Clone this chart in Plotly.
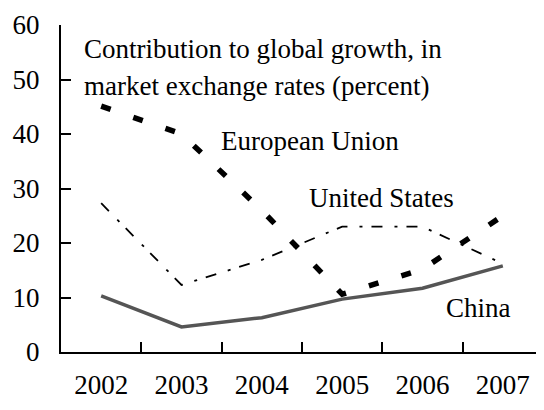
import plotly.graph_objects as go

years = ["2002", "2003", "2004", "2005", "2006", "2007"]
china = [10.3, 4.6, 6.3, 9.7, 11.7, 15.8]
united_states = [27.3, 12.3, 16.9, 23.0, 23.0, 16.2]
european_union = [45.1, 40.0, 26.0, 10.6, 15.2, 25.0]
y_ticks = [0, 10, 20, 30, 40, 50, 60]

FONT = "Liberation Serif"
OFF = 8  # default page body margin

fig = go.Figure()
fig.add_trace(go.Scatter(x=years, y=european_union, mode="lines", name="European Union",
                         line=dict(color="black", width=5.5, dash="10px,24px")))
fig.add_trace(go.Scatter(x=years, y=united_states, mode="lines", name="United States",
                         line=dict(color="black", width=1.8, dash="11px,12px,3px,9px")))
fig.add_trace(go.Scatter(x=years, y=china, mode="lines", name="China",
                         line=dict(color="#555555", width=3.5)))

# target plot area in window pixels
X0, X1, Y0, Y1 = 61, 543, 25, 352
W, H = 544 - OFF, 410 - OFF
L, T = X0 - OFF, Y0 - OFF
R = W - (X1 - OFF)
B = H - (Y1 - OFF)
pw, ph = X1 - X0, Y1 - Y0

def px(x):
    return (x - X0) / pw

def py(y):
    return (Y1 - y) / ph

annots = [
    ("Contribution to global growth, in", 82, 49),
    ("market exchange rates (percent)", 82, 86),
    ("European Union", 219, 141),
    ("United States", 307, 198),
    ("China", 444, 308),
]
for text, x, y in annots:
    fig.add_annotation(text=text, x=px(x), y=py(y), xref="paper", yref="paper",
                       xanchor="left", yanchor="middle", showarrow=False,
                       font=dict(family=FONT, size=27, color="black"))

fig.update_layout(
    width=W, height=H,
    margin=dict(l=L, r=R, t=T, b=B, pad=0, autoexpand=False),
    paper_bgcolor="white", plot_bgcolor="white",
    showlegend=False,
)
fig.update_xaxes(
    type="category", range=[-0.5, 5.5], showgrid=False, zeroline=False,
    showline=True, linecolor="black", linewidth=2,
    ticks="inside", ticklen=10, tickwidth=1.5, tickcolor="black",
    tickson="boundaries", ticklabelstandoff=8, automargin=False,
    tickfont=dict(family=FONT, size=27, color="black"),
)
fig.update_yaxes(
    range=[0, 60], tickvals=y_ticks, showgrid=False, zeroline=False,
    showline=True, linecolor="black", linewidth=2,
    ticks="inside", ticklen=10, tickwidth=1.5, tickcolor="black",
    ticklabelstandoff=14, automargin=False,
    tickfont=dict(family=FONT, size=27, color="black"),
)

fig.write_html("out.html")
